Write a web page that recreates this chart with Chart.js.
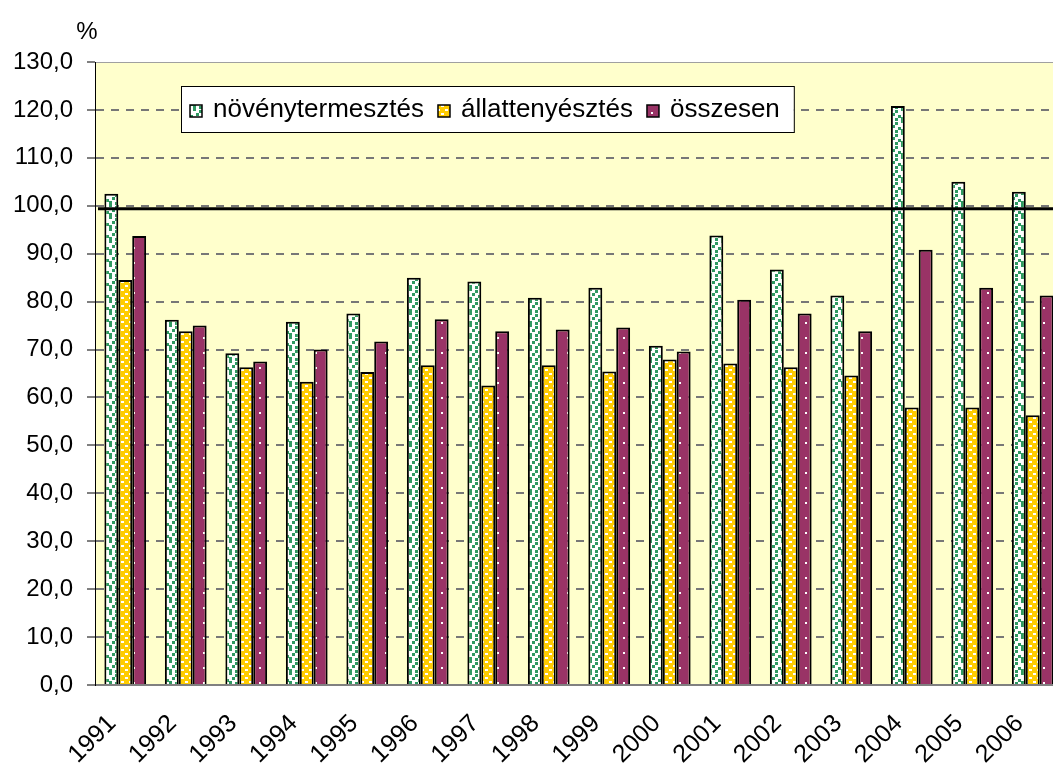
<!DOCTYPE html>
<html>
<head>
<meta charset="utf-8">
<script src="https://cdn.jsdelivr.net/npm/chart.js@4.4.1/dist/chart.umd.min.js"></script>
<style>
  html, body { margin: 0; padding: 0; background: #fff; overflow: hidden; }
  #wrap { position: relative; width: 1063px; height: 765px; }
</style>
</head>
<body>
<div id="wrap"><canvas id="chart" width="1063" height="765"></canvas></div>
<script>
// data
var years = ['1991','1992','1993','1994','1995','1996','1997','1998','1999','2000','2001','2002','2003','2004','2005','2006'];
var novenytermesztes = [102.5, 76.2, 69.2, 75.8, 77.5, 85.0, 84.2, 80.8, 82.9, 70.8, 93.8, 86.7, 81.3, 120.8, 105.0, 102.9];
var allattenyesztes  = [84.5, 73.8, 66.3, 63.3, 65.3, 66.7, 62.5, 66.7, 65.4, 67.9, 67.1, 66.3, 64.6, 57.9, 57.9, 56.3];
var osszesen         = [93.7, 75.0, 67.5, 70.0, 71.7, 76.3, 73.8, 74.2, 74.6, 69.6, 80.4, 77.5, 73.8, 90.8, 82.9, 81.3];
var seriesNames = ['növénytermesztés', 'állattenyésztés', 'összesen'];
var refLine = 99.4;
var yMin = 0, yMax = 130, yStep = 10;

var FONT = '"Liberation Sans", Arial, sans-serif';

// little fill patterns like the excel ones
function makePattern(w, h, bg, fg, dots) {
  var c = document.createElement('canvas');
  c.width = w; c.height = h;
  var g = c.getContext('2d');
  g.fillStyle = bg;
  g.fillRect(0, 0, w, h);
  g.fillStyle = fg;
  dots.forEach(d => g.fillRect(d[0], d[1], d[2], d[3]));
  return g.createPattern(c, 'repeat');
}

var greenPat = makePattern(12, 12, '#ffffff', '#2f9a62',
  [[1,0,3,3],[7,2,3,3],[4,5,3,3],[10,7,2,3],[0,7,1,3],[1,9,3,3],[7,10,3,2],[7,0,3,1]]);
var yellowPat = makePattern(8, 8, '#ffcc00', '#ffffff', [[1,1,3,2],[5,5,3,2]]);
var purplePat = makePattern(14, 15, '#993366', '#ffffff', [[7,7,2,2]]);

var plotBg = {
  id: 'plotBg',
  beforeDraw(chart) {
    var a = chart.chartArea, c = chart.ctx;
    c.save();
    c.fillStyle = '#ffffcc';
    c.fillRect(a.left, a.top, a.right - a.left, a.bottom - a.top);
    c.strokeStyle = '#a0a0a0';
    c.lineWidth = 1;
    c.beginPath();
    c.moveTo(a.left, a.top + 0.5);
    c.lineTo(a.right, a.top + 0.5);
    c.stroke();
    c.restore();
  }
};

var extras = {
  id: 'extras',
  afterDatasetsDraw(chart) {
    var a = chart.chartArea, c = chart.ctx;
    var y = chart.scales.y.getPixelForValue(refLine);
    c.save();
    c.strokeStyle = '#000';
    c.lineWidth = 3;
    c.beginPath();
    c.moveTo(a.left + 3, y);
    c.lineTo(a.right, y);
    c.stroke();
    c.restore();
  },
  afterDraw(chart) {
    var c = chart.ctx;
    c.save();
    c.font = '24px ' + FONT;
    c.fillStyle = '#000';
    c.textAlign = 'center';
    c.textBaseline = 'alphabetic';
    c.fillText('%', 87, 39);

    // legend box
    c.font = '26px ' + FONT;
    var pats = [greenPat, yellowPat, purplePat];
    var x0 = 181, y0 = 86, h = 46;
    var x = x0 + 9;
    var items = [];
    c.textAlign = 'left';
    seriesNames.forEach((n, i) => {
      var tw = c.measureText(n).width;
      items.push({x: x, n: n, p: pats[i]});
      x += 12 + 11 + tw + 14;
    });
    var w = x - x0;
    c.fillStyle = '#fff';
    c.fillRect(x0, y0, w, h);
    c.strokeStyle = '#000';
    c.lineWidth = 1;
    c.strokeRect(x0 + 0.5, y0 + 0.5, w, h);
    items.forEach(it => {
      c.fillStyle = it.p;
      c.fillRect(it.x, y0 + 19, 12, 12);
      c.lineWidth = 1.5;
      c.strokeRect(it.x, y0 + 19, 12, 12);
      c.fillStyle = '#000';
      c.fillText(it.n, it.x + 23, y0 + 31);
    });
    c.restore();
  }
};

var chart = new Chart(document.getElementById('chart'), {
  type: 'bar',
  data: {
    labels: years,
    datasets: [
      { label: seriesNames[0], data: novenytermesztes, backgroundColor: greenPat, borderColor: '#000', borderWidth: 2 },
      { label: seriesNames[1], data: allattenyesztes, backgroundColor: yellowPat, borderColor: '#000', borderWidth: 2 },
      { label: seriesNames[2], data: osszesen, backgroundColor: purplePat, borderColor: '#000', borderWidth: 2 }
    ]
  },
  options: {
    responsive: false,
    animation: false,
    layout: { padding: { top: 62, left: 0, right: 0, bottom: 0 } },
    datasets: { bar: { categoryPercentage: 0.69, barPercentage: 1.0 } },
    plugins: {
      legend: { display: false },
      tooltip: { enabled: false }
    },
    scales: {
      x: {
        grid: { display: false },
        border: { display: true, color: '#808080', width: 2 },
        ticks: {
          color: '#000',
          font: { family: FONT, size: 25 },
          minRotation: 45,
          maxRotation: 45,
          padding: 16,
          labelOffset: -13,
          autoSkip: false
        },
        afterFit(s) { s.height = 80; s.paddingRight = 0; s.paddingLeft = 0; }
      },
      y: {
        min: yMin,
        max: yMax,
        ticks: {
          stepSize: yStep,
          color: '#000',
          font: { family: FONT, size: 24 },
          padding: 14,
          callback: v => v.toFixed(1).replace('.', ',')
        },
        grid: {
          color: c => (c.tick && (c.tick.value === yMin || c.tick.value === yMax)) ? 'rgba(0,0,0,0)' : '#777777',
          lineWidth: 2,
          tickColor: '#000',
          tickLength: 8,
          tickWidth: 1
        },
        border: { display: true, color: '#000', width: 1, dash: [8, 7] },
        afterFit(s) { s.width = 95; }
      }
    }
  },
  plugins: [plotBg, extras]
});
</script>
</body>
</html>
